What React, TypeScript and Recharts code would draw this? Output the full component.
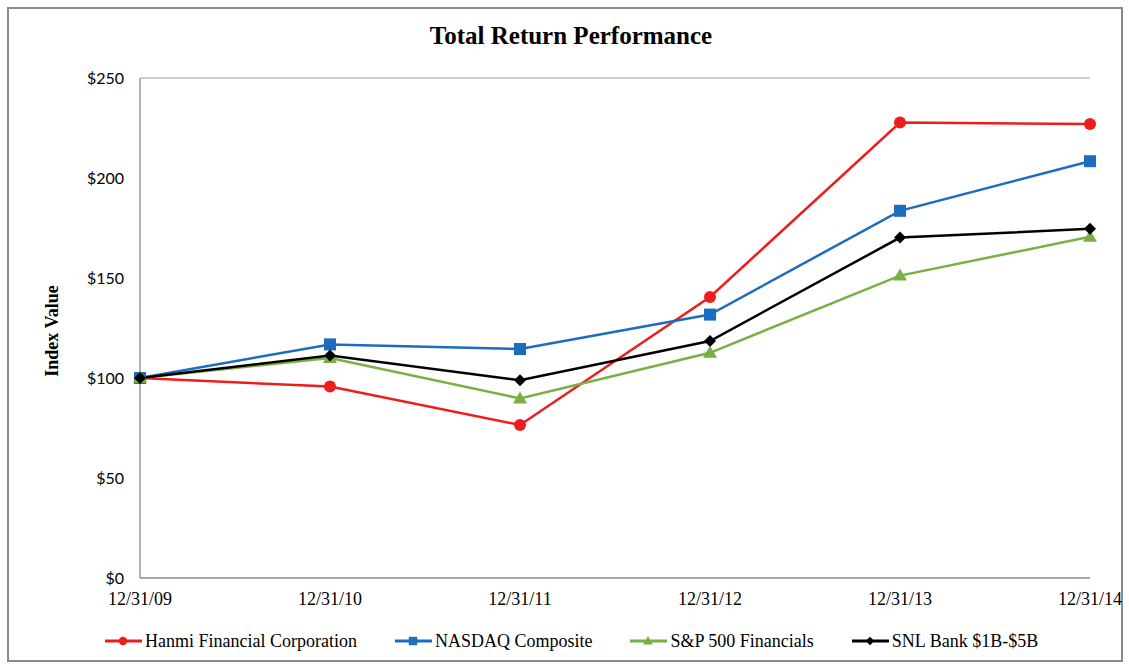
import { LineChart, Line, XAxis, YAxis, CartesianGrid } from "recharts";

const dates = ["12/31/09", "12/31/10", "12/31/11", "12/31/12", "12/31/13", "12/31/14"];
const hanmi = [100, 95.7, 76.5, 140.5, 227.7, 227];
const nasdaq = [100, 116.8, 114.5, 131.7, 183.6, 208.4];
const spFinancials = [100, 110, 89.8, 112.6, 151.2, 170.6];
const snlBank = [100, 111.2, 98.9, 118.5, 170.2, 174.6];
const yTicks = [0, 50, 100, 150, 200, 250];

const series = [
  { key: "hanmi", name: "Hanmi Financial Corporation", color: "#ee1d1d", shape: "circle" },
  { key: "nasdaq", name: "NASDAQ Composite", color: "#1c6cc0", shape: "square" },
  { key: "sp", name: "S&P 500 Financials", color: "#79b043", shape: "triangle" },
  { key: "snl", name: "SNL Bank $1B-$5B", color: "#000000", shape: "diamond" },
];

const data = dates.map((d, i) => ({
  date: d,
  hanmi: hanmi[i],
  nasdaq: nasdaq[i],
  sp: spFinancials[i],
  snl: snlBank[i],
}));

const serif = "'Liberation Serif', 'Times New Roman', serif";

const Marker = ({ shape, color, cx, cy, s = 1 }: { shape: string; color: string; cx: number; cy: number; s?: number }) => {
  if (shape === "circle") return <circle cx={cx} cy={cy} r={6 * s} fill={color} />;
  if (shape === "square") return <rect x={cx - 6 * s} y={cy - 6 * s} width={12 * s} height={12 * s} fill={color} />;
  if (shape === "triangle")
    return <polygon points={`${cx},${cy - 7 * s} ${cx + 7 * s},${cy + 5 * s} ${cx - 7 * s},${cy + 5 * s}`} fill={color} />;
  return <polygon points={`${cx},${cy - 6 * s} ${cx + 6 * s},${cy} ${cx},${cy + 6 * s} ${cx - 6 * s},${cy}`} fill={color} />;
};

const ChartLegend = () => (
  <div style={{ position: "absolute", left: 105, top: 629, display: "flex", gap: 38, fontFamily: serif, fontSize: 18, color: "#000", lineHeight: "24px" }}>
    {series.map((s) => (
      <div key={s.key} style={{ display: "flex", alignItems: "center", gap: 3 }}>
        <svg width={37} height={14}>
          <line x1={0} y1={7} x2={37} y2={7} stroke={s.color} strokeWidth={3} />
          <Marker shape={s.shape} color={s.color} cx={18} cy={7} s={0.7} />
        </svg>
        <span>{s.name}</span>
      </div>
    ))}
  </div>
);

const App = () => {
  return (
    <div style={{ position: "absolute", left: 0, top: 0, width: 1129, height: 666, background: "#fff" }}>
      <div style={{ position: "absolute", left: 7, top: 7, width: 1116, height: 655, border: "2px solid #8a8a8a", boxSizing: "border-box" }} />
      <div style={{ position: "absolute", left: 0, top: 21, width: 1142, textAlign: "center", fontFamily: serif, fontWeight: "bold", fontSize: 25, lineHeight: "30px" }}>
        Total Return Performance
      </div>
      <div style={{ position: "absolute", left: 52, top: 331, transform: "translate(-50%, -50%) rotate(-90deg)", fontFamily: serif, fontWeight: "bold", fontSize: 18, whiteSpace: "nowrap" }}>
        Index Value
      </div>
      <div style={{ position: "absolute", left: 0, top: 0 }}>
        <LineChart width={1129} height={666} data={data} margin={{ top: 78, right: 39, bottom: 0, left: 80 }}>
          <CartesianGrid horizontal={true} vertical={false} stroke="#bdbdbd" strokeWidth={1.5} />
          <XAxis
            dataKey="date"
            axisLine={{ stroke: "#9a9a9a", strokeWidth: 1.5 }}
            tickLine={false}
            tick={{ fontFamily: serif, fontSize: 18, fill: "#000" }}
            tickMargin={8}
            height={88}
            interval={0}
          />
          <YAxis
            yAxisId="left"
            domain={[0, 250]}
            ticks={yTicks}
            tickFormatter={(v) => `$${v}`}
            axisLine={{ stroke: "#9a9a9a", strokeWidth: 1.5 }}
            tickLine={false}
            tick={{ fontFamily: "Lato, sans-serif", fontSize: 16, fill: "#000" }}
            tickMargin={10}
            width={60}
          />
          <YAxis yAxisId="right" orientation="right" domain={[0, 250]} ticks={yTicks} tick={false} tickLine={false} axisLine={{ stroke: "#9a9a9a", strokeWidth: 1.5 }} width={0} />
          {series.map((s) => (
            <Line
              key={s.key}
              yAxisId="left"
              type="linear"
              dataKey={s.key}
              name={s.name}
              stroke={s.color}
              strokeWidth={2.5}
              dot={(p: any) => <Marker key={`${s.key}-${p.index}`} shape={s.shape} color={s.color} cx={p.cx} cy={p.cy} />}
              isAnimationActive={false}
            />
          ))}
        </LineChart>
      </div>
      <ChartLegend />
    </div>
  );
};

export default App;
